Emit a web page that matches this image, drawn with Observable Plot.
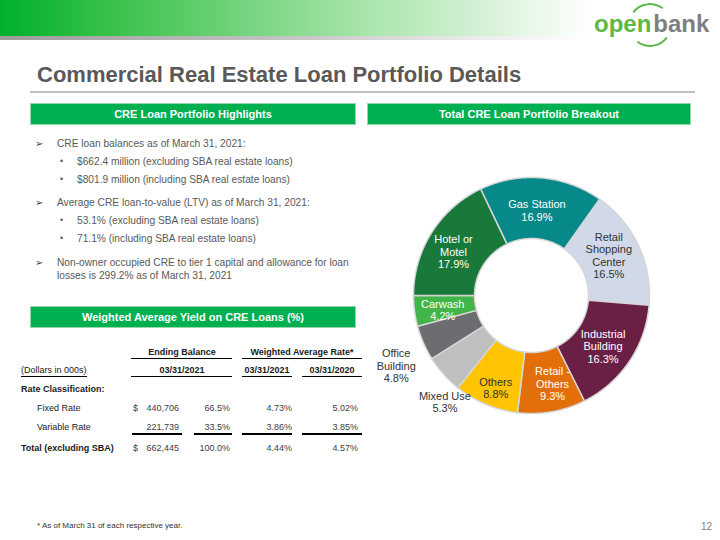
<!DOCTYPE html>
<html><head><meta charset="utf-8">
<script src="https://cdn.jsdelivr.net/npm/d3@7"></script>
<script src="https://cdn.jsdelivr.net/npm/@observablehq/plot@0.6"></script>
<style>
body{margin:0;background:#fff;}
#slide{position:relative;width:720px;height:540px;overflow:hidden;font-family:"Liberation Sans",Arial,sans-serif;color:#595959;background:#fff;}
.t{position:absolute;white-space:nowrap;}
.band{position:absolute;left:0;top:0;width:720px;height:36px;background:linear-gradient(to right,#00b02a 0%,#34c046 14%,#72d37b 33%,#abe6ae 52%,#def4de 70%,#ffffff 82%);}
.shadow{position:absolute;left:0;top:36px;width:720px;height:4px;background:linear-gradient(to right,#9c9c9c 0%,#c4c4c4 40%,#f0f0f0 70%,#ffffff 82%);}
.hdr{position:absolute;height:22px;line-height:20px;background:#00b050;border:1px solid #93d9ab;color:#fff;font-weight:bold;font-size:11px;text-align:center;box-sizing:border-box;}
.hl{position:absolute;background:#000;}
#chart{position:absolute;left:371px;top:155px;}
</style></head>
<body>
<div id="slide">
  <div class="band"></div>
  <div class="shadow"></div>
  <div style="position:absolute;left:628px;top:3px;width:40px;height:40px;border-radius:50%;border:2.5px solid #5cb946;border-left-color:transparent;border-right-color:transparent;transform:rotate(-8deg);"></div>
  <div class="t" style="left:594px;top:9px;font-size:24px;line-height:30px;font-weight:bold;"><span style="color:#5cb946;">open</span><span style="color:#7f7f7f;margin-left:2px;">bank</span></div>
  <div class="t" style="left:37px;top:61px;font-size:22px;line-height:28px;font-weight:bold;color:#595959;">Commercial Real Estate Loan Portfolio Details</div>
  <div style="position:absolute;left:30px;top:91px;width:665px;height:2px;background:#c0c0c0;"></div>
  <div class="hdr" style="left:30px;top:103px;width:326px;">CRE Loan Portfolio Highlights</div>
  <div class="hdr" style="left:367px;top:103px;width:324px;">Total CRE Loan Portfolio Breakout</div>
  <div class="hdr" style="left:30px;top:306px;width:326px;">Weighted Average Yield on CRE Loans (%)</div>
  <div id="chart"></div>
</div>
<script>
// ---- data ----
const categories = ["Gas Station","Retail Shopping Center","Industrial Building","Retail - Others","Others","Mixed Use","Office Building","Carwash","Hotel or Motel"];
const labelNames = ["Gas Station","Retail\nShopping\nCenter","Industrial\nBuilding","Retail -\nOthers","Others","Mixed Use","Office\nBuilding","Carwash","Hotel or\nMotel"];
const shares = [16.9,16.5,16.3,9.3,8.8,5.3,4.8,4.2,17.9];

// ---- styling / layout ----
const colors = ["#07898a","#d1d9e8","#6a2045","#e36f0b","#ffc402","#bfbfbf","#6c6d70","#42b54a","#18793a"];
const darkText = new Set(["Retail Shopping Center","Others","Mixed Use","Office Building"]);
const outsideLabel = new Set(["Mixed Use","Office Building"]);
const nudge = {"Gas Station":[-2,2],"Retail Shopping Center":[-2,-3],"Industrial Building":[-1,2],"Retail - Others":[6,2],"Others":[-2,12],"Mixed Use":[25,6],"Office Building":[2,10],"Carwash":[-2,3],"Hotel or Motel":[-4,3]};
const R0 = 57, R1 = 118, RL = 87.5, RO = 150;
const startAngle = 1.5 * Math.PI - 0.821 * 2 * Math.PI;

const pie = d3.pie().sort(null).value(d => d.share).startAngle(startAngle).endAngle(startAngle + 2 * Math.PI);
const slices = pie(categories.map((name, i) => ({name, share: shares[i], label: labelNames[i]})));

const pts = [];
for (const s of slices) {
  const n = Math.max(4, Math.ceil((s.endAngle - s.startAngle) / 0.01));
  const ring = [];
  for (let k = 0; k <= n; k++) { const a = s.startAngle + (s.endAngle - s.startAngle) * k / n; ring.push([R1 * Math.sin(a), R1 * Math.cos(a)]); }
  for (let k = n; k >= 0; k--) { const a = s.startAngle + (s.endAngle - s.startAngle) * k / n; ring.push([R0 * Math.sin(a), R0 * Math.cos(a)]); }
  ring.push(ring[0]);
  for (const [x, y] of ring) pts.push({name: s.data.name, x, y});
}
const labels = slices.map(s => {
  const a = (s.startAngle + s.endAngle) / 2;
  const r = outsideLabel.has(s.data.name) ? RO : RL;
  const [dx, dy] = nudge[s.data.name];
  return {name: s.data.name, x: r * Math.sin(a) + dx, y: r * Math.cos(a) - dy, text: s.data.label + "\n" + s.data.share.toFixed(1) + "%"};
});

const chart = Plot.plot({
  width: 320, height: 280, margin: 0,
  x: {domain: [-160, 160], axis: null},
  y: {domain: [-140, 140], axis: null},
  color: {domain: categories, range: colors},
  style: {fontFamily: "Liberation Sans, Arial, sans-serif", background: "transparent", overflow: "visible"},
  marks: [
    Plot.line(pts, {x: "x", y: "y", z: "name", fill: "name", stroke: "#d6d6d6", strokeWidth: 1.5, strokeLinejoin: "round"}),
    Plot.text(labels.filter(d => !darkText.has(d.name)), {x: "x", y: "y", text: "text", fill: "white", fontSize: 11, lineHeight: 1.13}),
    Plot.text(labels.filter(d => darkText.has(d.name)), {x: "x", y: "y", text: "text", fill: "#333333", fontSize: 11, lineHeight: 1.13})
  ]
});
document.getElementById("chart").append(chart);

// ---- slide text ----
const slide = document.getElementById("slide");
function put(text, x, y, o = {}) {
  const size = o.size || 10.2, lh = Math.round(size * 1.25);
  const d = document.createElement("div");
  d.className = "t";
  d.textContent = text;
  d.style.fontSize = size + "px";
  d.style.lineHeight = lh + "px";
  d.style.top = (y - lh / 2) + "px";
  d.style.left = x + "px";
  if (o.bold) d.style.fontWeight = "bold";
  d.style.color = o.color || "#595959";
  if (o.align === "center") d.style.transform = "translateX(-50%)";
  if (o.align === "right") d.style.transform = "translateX(-100%)";
  slide.append(d);
}
function hline(x1, x2, y, w = 1, c = "#000") {
  const d = document.createElement("div");
  d.className = "hl";
  d.style.left = x1 + "px"; d.style.width = (x2 - x1) + "px";
  d.style.top = y + "px"; d.style.height = w + "px"; d.style.background = c;
  slide.append(d);
}
// bullets
const arrow = "\u27A2";
const ao = {size: 10, color: "#404040"};
put(arrow, 35, 143, ao); put("CRE loan balances as of March 31, 2021:", 57, 143);
put("\u2022", 60, 161, {size: 9}); put("$662.4 million (excluding SBA real estate loans)", 77, 161);
put("\u2022", 60, 179, {size: 9}); put("$801.9 million (including SBA real estate loans)", 77, 179);
put(arrow, 35, 202, ao); put("Average CRE loan-to-value (LTV) as of March 31, 2021:", 57, 202);
put("\u2022", 60, 220, {size: 9}); put("53.1% (excluding SBA real estate loans)", 77, 220);
put("\u2022", 60, 238, {size: 9}); put("71.1% (including SBA real estate loans)", 77, 238);
put(arrow, 35, 262, ao); put("Non-owner occupied CRE to tier 1 capital and allowance for loan", 57, 262);
put("losses is 299.2% as of March 31, 2021", 57, 275);

// table
const tc = "#1a1a1a", nc = "#404040", fs = 9;
put("Ending Balance", 182, 352, {size: fs, bold: true, color: tc, align: "center"});
put("Weighted Average Rate*", 302, 352, {size: fs, bold: true, color: tc, align: "center"});
hline(131, 232, 358); hline(242, 362, 358);
put("(Dollars in 000s)", 21, 370, {size: fs, color: tc});
put("03/31/2021", 182, 370, {size: fs, bold: true, color: tc, align: "center"});
put("03/31/2021", 267, 370, {size: fs, bold: true, color: tc, align: "center"});
put("03/31/2020", 332, 370, {size: fs, bold: true, color: tc, align: "center"});
hline(21, 87, 376); hline(131, 232, 376); hline(242, 292, 376); hline(302, 362, 376);
put("Rate Classification:", 21, 389, {size: fs, bold: true, color: tc});
const rows = [
  ["Fixed Rate", 37, "$", "440,706", "66.5%", "4.73%", "5.02%", 408, false],
  ["Variable Rate", 37, "", "221,739", "33.5%", "3.86%", "3.85%", 427, false],
  ["Total (excluding SBA)", 21, "$", "662,445", "100.0%", "4.44%", "4.57%", 448, true]
];
for (const [lab, lx, cur, bal, pct, r1, r2, y, b] of rows) {
  put(lab, lx, y, {size: fs, bold: b, color: tc});
  if (cur) put(cur, 133, y, {size: fs, color: nc});
  put(bal, 179, y, {size: fs, color: nc, align: "right"});
  put(pct, 230, y, {size: fs, color: nc, align: "right"});
  put(r1, 292, y, {size: fs, color: nc, align: "right"});
  put(r2, 358, y, {size: fs, color: nc, align: "right"});
}
hline(132, 182, 433, 2); hline(194, 232, 433, 2); hline(242, 292, 433, 2); hline(302, 362, 433, 2);

put("* As of March 31 of each respective year.", 37, 526, {size: 8, color: "#333"});
put("12", 712, 526, {size: 10, color: "#7f7f7f", align: "right"});
</script>
</body></html>
